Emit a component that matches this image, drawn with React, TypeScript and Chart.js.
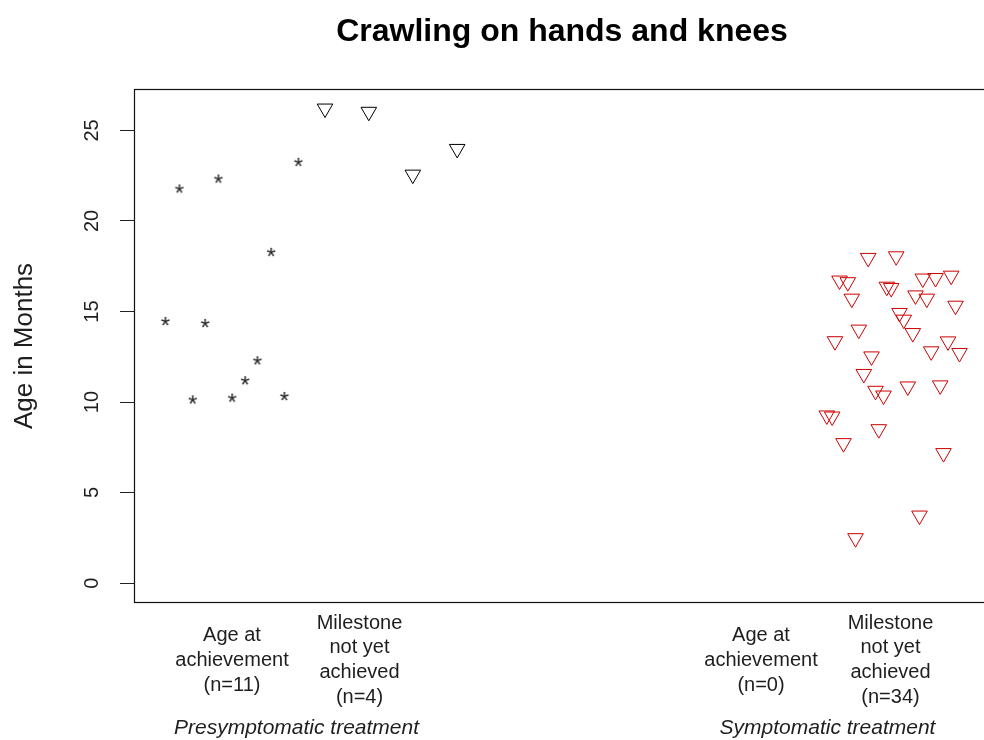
import { useEffect, useRef } from 'react';
import { Chart, registerables } from 'chart.js';

Chart.register(...registerables);

const chartTitle = 'Crawling on hands and knees';
const yAxisTitle = 'Age in Months';

// Presymptomatic treatment, age at achievement (n=11): jittered position and age in months
const presymAchievedPos = [0.455, 0.845, 1.645, 1.372, 0.315, 0.712, 1.235, 1.112, 0.588, 0.982, 1.505];
const presymAchievedAge = [21.8, 22.35, 23.27, 18.3, 14.48, 14.37, 12.31, 11.21, 10.15, 10.25, 10.34];

// Presymptomatic treatment, milestone not yet achieved (n=4)
const presymPendingPos = [1.91, 2.348, 2.788, 3.232];
const presymPendingAge = [26.21, 26.03, 22.56, 23.98];

// Symptomatic treatment, milestone not yet achieved (n=34)
const symPendingPos = [
  7.342, 7.622, 7.055, 7.138, 7.178, 7.528, 7.572, 7.888, 8.015, 8.172,
  7.815, 7.928, 8.215, 7.655, 7.698, 7.788, 7.248, 7.01, 8.14, 7.972,
  8.255, 7.375, 7.298, 7.415, 7.495, 7.738, 8.062, 6.928, 6.982, 7.448,
  7.095, 8.095, 7.855, 7.215,
];
const symPendingAge = [
  17.96, 18.05, 16.71, 16.62, 15.71, 16.37, 16.3, 16.82, 16.85, 16.98,
  15.89, 15.71, 15.32, 14.92, 14.55, 13.81, 14.0, 13.36, 13.35, 12.8,
  12.71, 12.52, 11.55, 10.62, 10.36, 10.86, 10.92, 9.26, 9.2, 8.5,
  7.73, 7.18, 3.73, 2.48,
];

// Category labels under the plot and the treatment groups beneath them
const categoryPos = [0.98, 2.255, 6.27, 7.565];
const categoryLabels = [
  ['Age at', 'achievement', '(n=11)'],
  ['Milestone', 'not yet', 'achieved', '(n=4)'],
  ['Age at', 'achievement', '(n=0)'],
  ['Milestone', 'not yet', 'achieved', '(n=34)'],
];
const groupPos = [1.625, 6.935];
const groupLabels = ['Presymptomatic treatment', 'Symptomatic treatment'];

const X_MIN = 0;
const X_MAX = 8.56;
const Y_MIN = -1.1;
const Y_MAX = 27.29;

const FONT = '"Liberation Sans", Arial, Helvetica, sans-serif';

function makeAsterisk(): HTMLCanvasElement {
  const size = 16;
  const c = document.createElement('canvas');
  c.width = size;
  c.height = size;
  const g = c.getContext('2d');
  if (g) {
    g.font = `24px ${FONT}`;
    g.fillStyle = '#1f1f1f';
    g.textAlign = 'center';
    g.textBaseline = 'alphabetic';
    const m = g.measureText('*');
    const base = size / 2 + (m.actualBoundingBoxAscent - m.actualBoundingBoxDescent) / 2;
    g.fillText('*', size / 2, base);
  }
  return c;
}

// Draws the box around the plotting region
const framePlugin = {
  id: 'plotFrame',
  afterDraw(chart: any) {
    const { ctx, chartArea: a } = chart;
    ctx.save();
    ctx.strokeStyle = '#111';
    ctx.lineWidth = 1.2;
    const l = Math.round(a.left) + 0.5;
    const t = Math.round(a.top) + 0.5;
    const r = Math.round(a.right) - 0.5;
    const b = Math.round(a.bottom) - 0.5;
    ctx.strokeRect(l, t, r - l, b - t);
    ctx.restore();
  },
};

export default function App() {
  const canvasRef = useRef<HTMLCanvasElement | null>(null);

  useEffect(() => {
    const canvas = canvasRef.current;
    if (!canvas) return;
    const asterisk = makeAsterisk();

    const chart = new Chart(canvas, {
      type: 'scatter',
      data: {
        datasets: [
          {
            label: 'Presymptomatic: age at achievement',
            data: presymAchievedPos.map((x, i) => ({ x, y: presymAchievedAge[i] })),
            pointStyle: asterisk as any,
            pointRadius: 5,
          },
          {
            label: 'Presymptomatic: not yet achieved',
            data: presymPendingPos.map((x, i) => ({ x, y: presymPendingAge[i] })),
            pointStyle: 'triangle',
            rotation: 180,
            pointRadius: 9,
            borderWidth: 1,
            borderColor: '#000',
            backgroundColor: 'rgba(0,0,0,0)',
          },
          {
            label: 'Symptomatic: not yet achieved',
            data: symPendingPos.map((x, i) => ({ x, y: symPendingAge[i] })),
            pointStyle: 'triangle',
            rotation: 180,
            pointRadius: 9,
            borderWidth: 1,
            borderColor: '#cc0000',
            backgroundColor: 'rgba(0,0,0,0)',
          },
        ],
      },
      options: {
        responsive: false,
        maintainAspectRatio: false,
        animation: false,
        events: [],
        layout: { padding: 0 },
        plugins: {
          legend: { display: false },
          tooltip: { enabled: false },
          title: {
            display: true,
            text: chartTitle,
            fullSize: false,
            align: 'center',
            color: '#000',
            font: { family: FONT, size: 32, weight: 'bold', lineHeight: 1.2 },
            padding: { top: 13, bottom: 37.6 },
          },
        },
        scales: {
          x: {
            type: 'linear',
            position: 'bottom',
            weight: 0,
            min: X_MIN,
            max: X_MAX,
            afterBuildTicks: (s: any) => {
              s.ticks = categoryPos.map((v) => ({ value: v }));
            },
            afterFit: (s: any) => {
              s.height = 112;
            },
            grid: { display: false, drawTicks: false },
            border: { display: false },
            ticks: {
              autoSkip: false,
              maxRotation: 0,
              minRotation: 0,
              padding: 20,
              crossAlign: 'center',
              color: '#1e1e1e',
              font: { family: FONT, size: 20, lineHeight: 1.24 },
              callback: (_v: any, i: number) => categoryLabels[i],
            },
          },
          x2: {
            type: 'linear',
            position: 'bottom',
            weight: 1,
            min: X_MIN,
            max: X_MAX,
            afterBuildTicks: (s: any) => {
              s.ticks = groupPos.map((v) => ({ value: v }));
            },
            afterFit: (s: any) => {
              s.height = 25;
            },
            grid: { display: false, drawTicks: false },
            border: { display: false },
            ticks: {
              autoSkip: false,
              maxRotation: 0,
              minRotation: 0,
              padding: 2,
              color: '#1e1e1e',
              font: { family: FONT, size: 21, style: 'italic', lineHeight: 1.1 },
              callback: (_v: any, i: number) => groupLabels[i],
            },
          },
          y: {
            type: 'linear',
            position: 'left',
            min: Y_MIN,
            max: Y_MAX,
            afterFit: (s: any) => {
              s.width = 134;
            },
            grid: {
              display: true,
              drawOnChartArea: false,
              drawTicks: true,
              tickLength: 14,
              color: '#222',
              lineWidth: 1,
            },
            border: { display: false },
            ticks: {
              stepSize: 5,
              includeBounds: false,
              minRotation: 90,
              maxRotation: 90,
              crossAlign: 'center',
              padding: 16,
              color: '#1e1e1e',
              font: { family: FONT, size: 20 },
            },
            title: {
              display: true,
              text: yAxisTitle,
              color: '#1e1e1e',
              font: { family: FONT, size: 26 },
              padding: { top: 9, bottom: 0 },
            },
          },
        },
      } as any,
      plugins: [framePlugin],
    });

    return () => {
      chart.destroy();
    };
  }, []);

  return (
    <div
      style={{
        position: 'absolute',
        left: 0,
        top: 0,
        width: 984,
        height: 740,
        overflow: 'hidden',
        background: '#fff',
      }}
    >
      <canvas ref={canvasRef} width={1000} height={740} style={{ display: 'block' }} />
    </div>
  );
}
